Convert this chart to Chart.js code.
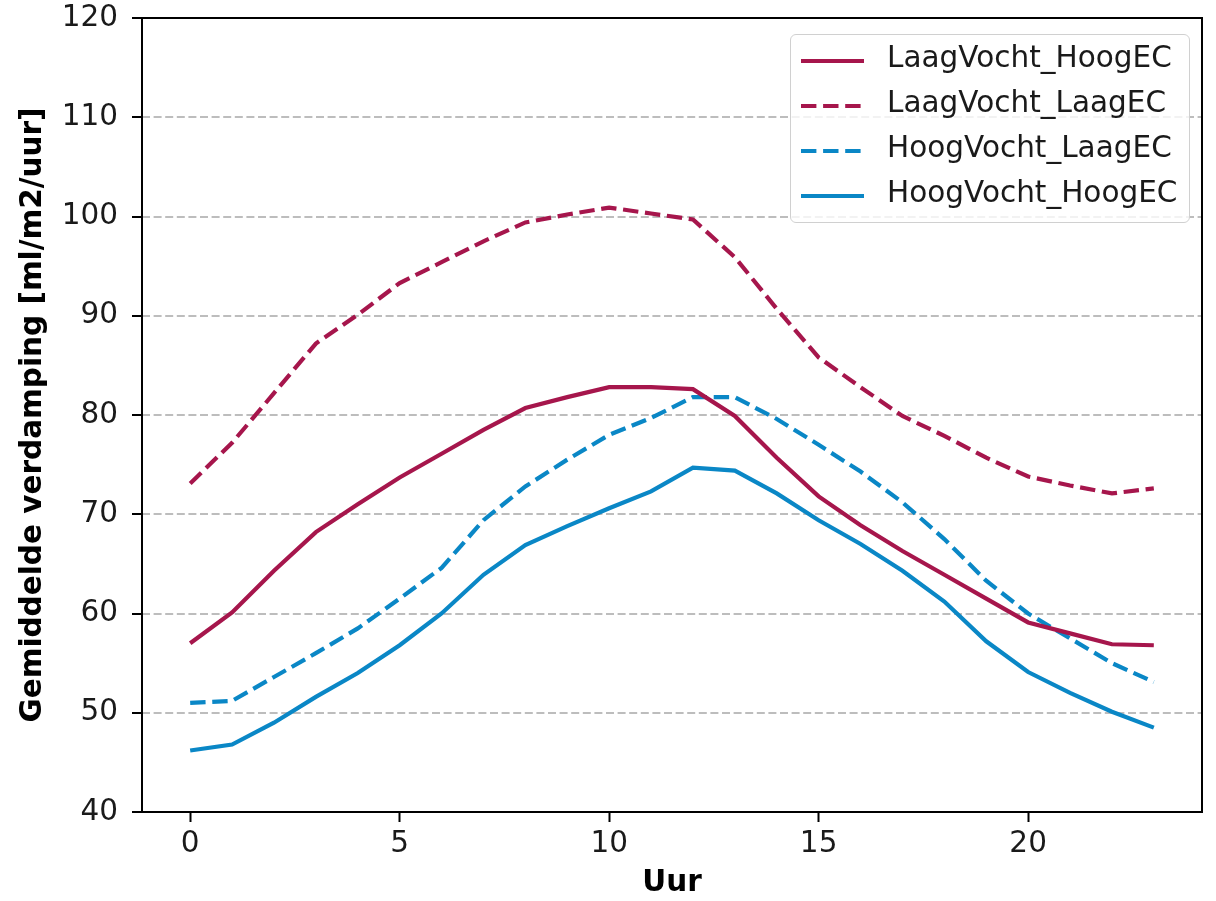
<!DOCTYPE html>
<html>
<head>
<meta charset="utf-8">
<script src="https://cdn.jsdelivr.net/npm/chart.js@4/dist/chart.umd.min.js"></script>
<style>
  body { margin: 0; background: #fff; }
  #wrap { position: relative; width: 1216px; height: 901px; }
  #legend {
    position: absolute; left: 790px; top: 34px; width: 398px; height: 187px;
    border: 1.5px solid #d0d0d0; border-radius: 6px; background: rgba(255,255,255,0.8);
    font-family: "DejaVu Sans", sans-serif; font-size: 29.5px; color: #1a1a1a;
  }
  .item { position: absolute; left: 0; height: 40px; width: 100%; }
  .item svg { position: absolute; left: 9px; top: 18px; }
  .item span { position: absolute; left: 96px; top: 1px; white-space: nowrap; }
</style>
</head>
<body>
<div id="wrap">
  <canvas id="chart" width="1216" height="901"></canvas>
  <div id="legend"></div>
</div>
<script>
const hours = [0, 1, 2, 3, 4, 5, 6, 7, 8, 9, 10, 11, 12, 13, 14, 15, 16, 17, 18, 19, 20, 21, 22, 23];
const xTicks = [0, 5, 10, 15, 20];

const laagVochtHoogEC = [57.0, 60.1, 64.3, 68.2, 71.0, 73.7, 76.1, 78.5, 80.7, 81.8, 82.8, 82.8, 82.6, 79.9, 75.7, 71.8, 68.9, 66.3, 63.9, 61.5, 59.1, 58.0, 56.9, 56.8];
const laagVochtLaagEC = [73.1, 77.2, 82.2, 87.2, 90.1, 93.3, 95.4, 97.5, 99.4, 100.2, 100.9, 100.3, 99.7, 95.9, 90.7, 85.8, 82.8, 79.9, 77.9, 75.7, 73.8, 72.9, 72.1, 72.6];
const hoogVochtLaagEC = [51.0, 51.2, 53.6, 56.0, 58.5, 61.5, 64.6, 69.4, 72.8, 75.5, 78.0, 79.7, 81.8, 81.8, 79.6, 77.0, 74.3, 71.2, 67.5, 63.3, 60.0, 57.5, 55.0, 53.1];
const hoogVochtHoogEC = [46.2, 46.8, 49.0, 51.6, 54.0, 56.8, 60.0, 63.9, 66.9, 68.8, 70.6, 72.3, 74.7, 74.4, 72.1, 69.4, 67.0, 64.3, 61.2, 57.2, 54.1, 52.0, 50.1, 48.5];

const red = "#a6164c";
const blue = "#0a87c6";
const dash = [15.4, 6.7];
const fontSize = 29.5;

function makeSet(label, values, color, dashed) {
  return {
    label: label,
    data: hours.map((h, i) => ({ x: h, y: values[i] })),
    borderColor: color,
    borderWidth: 4.2,
    borderDash: dashed ? dash : [],
    pointRadius: 0,
    tension: 0,
    fill: false,
  };
}

const datasets = [
  makeSet("LaagVocht_HoogEC", laagVochtHoogEC, red, false),
  makeSet("LaagVocht_LaagEC", laagVochtLaagEC, red, true),
  makeSet("HoogVocht_LaagEC", hoogVochtLaagEC, blue, true),
  makeSet("HoogVocht_HoogEC", hoogVochtHoogEC, blue, false),
];

// axes frame drawn on top like matplotlib spines
const framePlugin = {
  id: "frame",
  afterDatasetsDraw(chart) {
    const { ctx, chartArea } = chart;
    ctx.save();
    ctx.strokeStyle = "#000";
    ctx.lineWidth = 2;
    ctx.strokeRect(chartArea.left, chartArea.top, chartArea.right - chartArea.left, chartArea.bottom - chartArea.top);
    ctx.restore();
  },
};

const ctx = document.getElementById("chart").getContext("2d");
new Chart(ctx, {
  type: "line",
  data: { datasets: datasets },
  options: {
    responsive: false,
    animation: false,
    layout: { padding: { left: 0, top: 18, right: 14, bottom: 0 } },
    plugins: { legend: { display: false }, tooltip: { enabled: false } },
    scales: {
      x: {
        type: "linear",
        min: -1.15,
        max: 24.15,
        afterBuildTicks: (scale) => {
          scale.ticks = xTicks.map((v) => ({ value: v }));
        },
        afterFit: (scale) => {
          scale.height = 89;
          scale.paddingLeft = 0;
          scale.paddingRight = 0;
        },
        border: { display: false },
        grid: {
          drawOnChartArea: false,
          drawTicks: true,
          tickLength: 10,
          tickColor: "#000",
          tickWidth: 2,
        },
        ticks: {
          color: "#1a1a1a",
          padding: 5,
          maxRotation: 0,
          font: { family: "DejaVu Sans", size: fontSize },
        },
        title: {
          display: true,
          text: "Uur",
          color: "#000",
          padding: { top: 0, bottom: 0 },
          font: { family: "DejaVu Sans", size: fontSize, weight: "bold" },
        },
      },
      y: {
        min: 40,
        max: 120,
        afterFit: (scale) => {
          scale.width = 142;
          scale.paddingTop = 0;
          scale.paddingBottom = 0;
        },
        border: { display: false, dash: [8, 3.6] },
        grid: {
          color: "#bdbdbd",
          lineWidth: 2,
          drawTicks: true,
          tickLength: 10,
          tickColor: "#000",
          tickWidth: 2,
          tickBorderDash: [],
        },
        ticks: {
          stepSize: 10,
          color: "#1a1a1a",
          padding: 14,
          font: { family: "DejaVu Sans", size: fontSize },
        },
        title: {
          display: true,
          text: "Gemiddelde verdamping [ml/m2/uur]",
          color: "#000",
          padding: { top: 16, bottom: 0 },
          font: { family: "DejaVu Sans", size: fontSize, weight: "bold" },
        },
      },
    },
  },
  plugins: [framePlugin],
});

// legend box inside the axes, top right
const legend = document.getElementById("legend");
datasets.forEach((ds, i) => {
  const row = document.createElement("div");
  row.className = "item";
  row.style.top = 4 + i * 45 + "px";
  const dashAttr = ds.borderDash.length ? ` stroke-dasharray="${ds.borderDash.join(" ")}"` : "";
  row.innerHTML =
    `<svg width="66" height="8"><line x1="1" y1="4" x2="64" y2="4" stroke="${ds.borderColor}" stroke-width="4.2"${dashAttr}/></svg>` +
    `<span>${ds.label}</span>`;
  legend.appendChild(row);
});
</script>
</body>
</html>
